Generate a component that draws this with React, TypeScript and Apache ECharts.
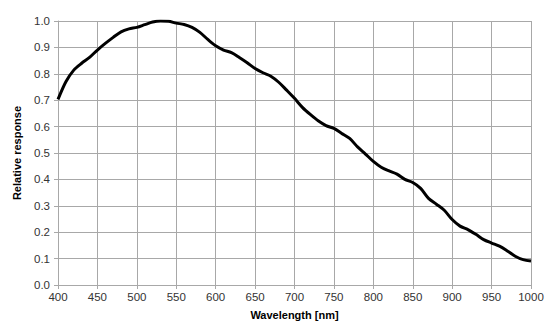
import React, { useEffect, useRef } from "react";
import * as echarts from "echarts";

const wavelengths = [400, 410, 420, 430, 440, 450, 460, 470, 480, 490, 500, 510, 520, 530, 540, 550, 560, 570, 580, 590, 600, 610, 620, 630, 640, 650, 660, 670, 680, 690, 700, 710, 720, 730, 740, 750, 760, 770, 780, 790, 800, 810, 820, 830, 840, 850, 860, 870, 880, 890, 900, 910, 920, 930, 940, 950, 960, 970, 980, 990, 1000];
const response = [0.703, 0.77, 0.814, 0.84, 0.862, 0.89, 0.915, 0.938, 0.959, 0.97, 0.976, 0.986, 0.996, 1.0, 0.999, 0.992, 0.987, 0.976, 0.957, 0.93, 0.906, 0.89, 0.88, 0.862, 0.842, 0.82, 0.804, 0.791, 0.768, 0.738, 0.707, 0.673, 0.646, 0.622, 0.604, 0.593, 0.574, 0.555, 0.523, 0.496, 0.468, 0.446, 0.432, 0.42, 0.4, 0.388, 0.366, 0.328, 0.306, 0.283, 0.248, 0.223, 0.21, 0.192, 0.172, 0.159, 0.147, 0.129, 0.109, 0.096, 0.091];

const xTitle = "Wavelength [nm]";
const yTitle = "Relative response";

export default function App() {
  const ref = useRef<HTMLDivElement>(null);
  useEffect(() => {
    if (!ref.current) return;
    const chart = echarts.init(ref.current, undefined, { renderer: "svg" });
    const font = "'Liberation Sans', Arial, sans-serif";
    const gridColor = "#a8a8a8";
    chart.setOption({
      animation: false,
      backgroundColor: "#ffffff",
      grid: { left: 58, right: 23, top: 21, bottom: 46, containLabel: false },
      xAxis: {
        type: "value",
        min: 400,
        max: 1000,
        interval: 50,
        name: xTitle,
        nameLocation: "middle",
        nameGap: 24,
        nameTextStyle: { fontFamily: font, fontSize: 11, fontWeight: "bold", color: "#000" },
        axisLine: { show: true, lineStyle: { color: gridColor, width: 1 } },
        axisTick: { show: true, length: 4, lineStyle: { color: gridColor } },
        axisLabel: {
          fontFamily: font,
          fontSize: 11.5,
          color: "#333",
          margin: 6,
          formatter: (v: number) => String(v),
        },
        splitLine: { show: true, lineStyle: { color: gridColor, width: 1 } },
      },
      yAxis: {
        type: "value",
        min: 0,
        max: 1,
        interval: 0.1,
        name: yTitle,
        nameLocation: "middle",
        nameGap: 36,
        nameRotate: 90,
        nameTextStyle: { fontFamily: font, fontSize: 11, fontWeight: "bold", color: "#000" },
        axisLine: { show: true, lineStyle: { color: gridColor, width: 1 } },
        axisTick: { show: true, length: 4, lineStyle: { color: gridColor } },
        axisLabel: {
          fontFamily: font,
          fontSize: 11.5,
          color: "#333",
          margin: 8,
          formatter: (v: number) => v.toFixed(1),
        },
        splitLine: { show: true, lineStyle: { color: gridColor, width: 1 } },
      },
      series: [
        {
          type: "line",
          data: wavelengths.map((w, i) => [w, response[i]]),
          smooth: 0.3,
          showSymbol: false,
          lineStyle: { color: "#000", width: 3 },
        },
      ],
    });
    return () => chart.dispose();
  }, []);
  return <div ref={ref} style={{ width: 554, height: 331, position: "absolute", left: 0, top: 0 }} />;
}
